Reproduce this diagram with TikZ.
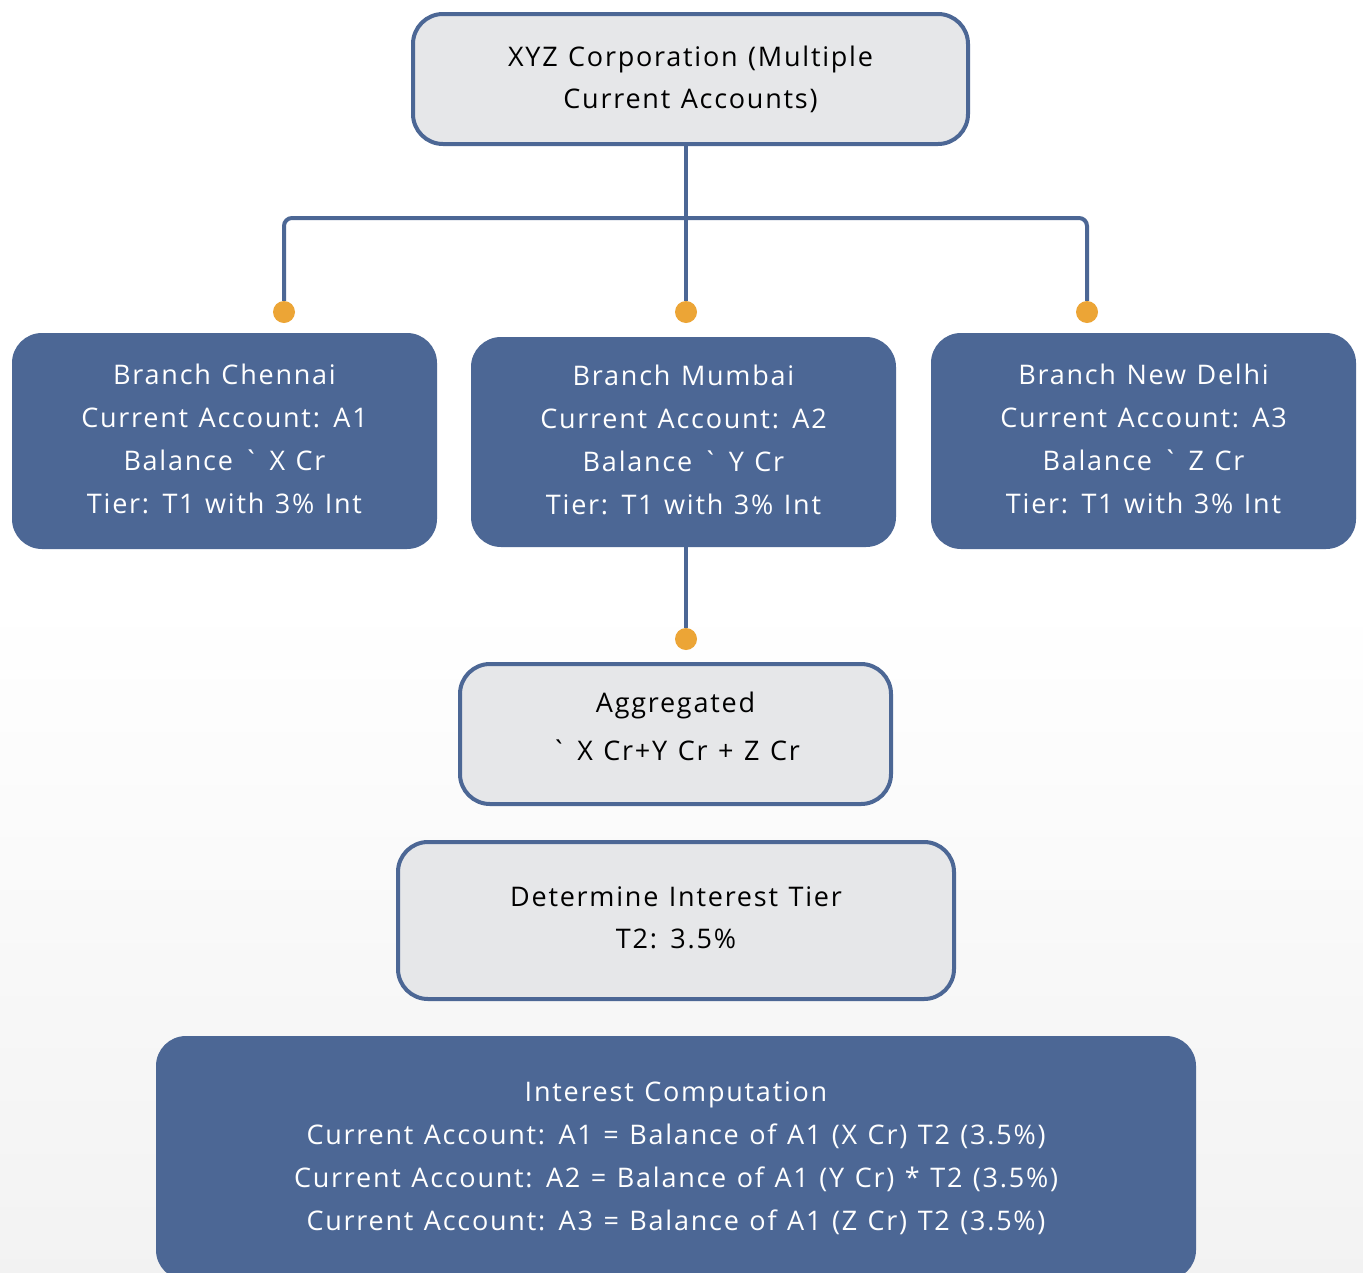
\documentclass[tikz,border=0pt]{standalone}
\usepackage{fontspec}
\setmainfont[LetterSpace=6.5,WordSpace=1.2]{Open Sans}
\usepackage{tikz}
\usetikzlibrary{positioning}
\usepackage{xcolor}
\definecolor{boxblue}{HTML}{4C6795}
\definecolor{boxgray}{HTML}{E6E7E9}
\definecolor{dotorange}{HTML}{ECA536}
% extra depth under the last line, lifts the text in its box
\newcommand{\padbelow}[1]{\rule[-#1]{0pt}{#1}}

\begin{document}
\begin{tikzpicture}[x=1pt,y=-1pt,
  graybox/.style={draw=boxblue, line width=4pt, fill=boxgray, rounded corners=30pt,
    align=center, inner sep=0pt, font=\fontsize{27}{42}\selectfont},
  bluebox/.style={fill=boxblue, text=white, rounded corners=30pt,
    align=center, inner sep=0pt, font=\fontsize{27}{43}\selectfont},
  link/.style={draw=boxblue, line width=4pt},
  dot/.style={circle, fill=dotorange, minimum size=22pt, inner sep=0pt}]
%%%CANVAS
\clip (0,0) rectangle (1363,1272);
\fill[white] (0,0) rectangle (1363,1272);
\shade[top color=white, bottom color=black!5] (0,600) rectangle (1363,1272);
%%%BOXES
\node[graybox, minimum width=555pt, minimum height=130pt] (corp) at (690.5,79)
  {XYZ Corporation (Multiple\\Current Accounts)};
\node[bluebox, minimum width=425pt, minimum height=216pt] (chennai) at (224.5,441)
  {Branch Chennai\\Current Account: A1\\Balance \textasciigrave{} X Cr\\Tier: T1 with 3\% Int\padbelow{4pt}};
\node[bluebox, minimum width=425pt, minimum height=210pt] (mumbai) at (683.5,442)
  {Branch Mumbai\\Current Account: A2\\Balance \textasciigrave{} Y Cr\\Tier: T1 with 3\% Int\padbelow{4pt}};
\node[bluebox, minimum width=425pt, minimum height=216pt] (delhi) at (1143.5,441)
  {Branch New Delhi\\Current Account: A3\\Balance \textasciigrave{} Z Cr\\Tier: T1 with 3\% Int\padbelow{4pt}};
\node[graybox, minimum width=431pt, minimum height=140pt, font=\fontsize{27}{48}\selectfont] (aggr) at (675.5,734)
  {Aggregated\\\textasciigrave{} X Cr+Y Cr + Z Cr\padbelow{16pt}};
\node[graybox, minimum width=556pt, minimum height=157pt] (tier) at (676,920.5)
  {Determine Interest Tier\\T2: 3.5\%\padbelow{6pt}};
\node[bluebox, minimum width=1040pt, minimum height=244pt] (comp) at (676,1158)
  {Interest Computation\\Current Account: A1 = Balance of A1 (X Cr) T2 (3.5\%)\\
   Current Account: A2 = Balance of A1 (Y Cr) * T2 (3.5\%)\\
   Current Account: A3 = Balance of A1 (Z Cr) T2 (3.5\%)};
%%%DOTS
\node[dot] (dotC) at (284,312) {};
\node[dot] (dotM) at (686,312) {};
\node[dot] (dotD) at (1087,312) {};
\node[dot] (dotA) at (686,639) {};
%%%CONNECTORS
\coordinate (hub) at (686,218);
\draw[link] (corp.south -| dotM.north) -- (dotM.north);
\draw[link, rounded corners=8pt] (dotC.north) |- (hub) -| (dotD.north);
\draw[link] (mumbai.south -| dotA.north) -- (dotA.north);
\end{tikzpicture}
\end{document}
